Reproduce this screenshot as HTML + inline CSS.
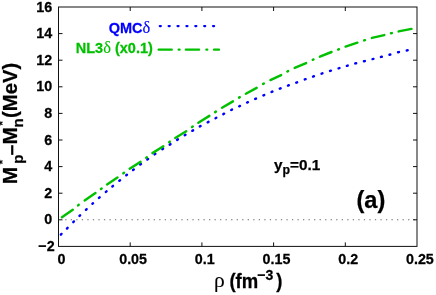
<!DOCTYPE html>
<html><head><meta charset="utf-8"><title>chart</title>
<style>html,body{margin:0;padding:0;background:#fff;overflow:hidden}svg{display:block}svg{will-change:transform}text{font-family:"Liberation Sans",sans-serif;font-weight:bold;fill:#000;stroke:#000;stroke-width:0.25px}.sym{font-family:"Liberation Serif",serif;font-weight:normal;stroke-width:0.1px}</style></head><body>
<svg width="436" height="295" viewBox="0 0 436 295">
<rect x="0" y="0" width="436" height="295" fill="#fff"/>
<line x1="65.2" y1="219.80" x2="416.0" y2="219.80" stroke="#6a6a6a" stroke-width="1.1" stroke-dasharray="1.3 4.23"/>
<g stroke="#0000ff" stroke-width="2.45" stroke-linecap="round" fill="none">
<line x1="60.88" y1="234.62" x2="61.52" y2="233.98"/>
<line x1="66.98" y1="228.52" x2="67.62" y2="227.88"/>
<line x1="73.28" y1="222.12" x2="73.92" y2="221.48"/>
<line x1="79.48" y1="215.91" x2="80.12" y2="215.29"/>
<line x1="85.97" y1="209.81" x2="86.63" y2="209.19"/>
<line x1="92.37" y1="203.80" x2="93.03" y2="203.20"/>
<line x1="98.96" y1="197.90" x2="99.64" y2="197.30"/>
<line x1="105.86" y1="191.94" x2="106.54" y2="191.36"/>
<line x1="112.35" y1="186.49" x2="113.05" y2="185.91"/>
<line x1="119.35" y1="180.78" x2="120.05" y2="180.22"/>
<line x1="126.25" y1="175.28" x2="126.95" y2="174.72"/>
<line x1="133.04" y1="169.97" x2="133.76" y2="169.43"/>
<line x1="140.24" y1="164.47" x2="140.96" y2="163.93"/>
<line x1="147.33" y1="159.46" x2="148.07" y2="158.94"/>
<line x1="154.63" y1="154.35" x2="155.37" y2="153.85"/>
<line x1="162.32" y1="149.14" x2="163.08" y2="148.66"/>
<line x1="169.72" y1="144.64" x2="170.48" y2="144.16"/>
<line x1="177.12" y1="139.84" x2="177.88" y2="139.36"/>
<line x1="184.71" y1="135.23" x2="185.49" y2="134.77"/>
<line x1="192.31" y1="130.83" x2="193.09" y2="130.37"/>
<line x1="199.81" y1="126.42" x2="200.59" y2="125.98"/>
<line x1="207.70" y1="122.31" x2="208.50" y2="121.89"/>
<line x1="215.50" y1="118.21" x2="216.30" y2="117.79"/>
<line x1="223.30" y1="114.11" x2="224.10" y2="113.69"/>
<line x1="231.20" y1="110.00" x2="232.00" y2="109.60"/>
<line x1="239.19" y1="106.29" x2="240.01" y2="105.91"/>
<line x1="247.09" y1="102.59" x2="247.91" y2="102.21"/>
<line x1="255.19" y1="98.98" x2="256.01" y2="98.62"/>
<line x1="263.39" y1="95.38" x2="264.21" y2="95.02"/>
<line x1="271.58" y1="91.97" x2="272.42" y2="91.63"/>
<line x1="279.78" y1="88.66" x2="280.62" y2="88.34"/>
<line x1="287.98" y1="85.55" x2="288.82" y2="85.25"/>
<line x1="296.28" y1="82.65" x2="297.12" y2="82.35"/>
<line x1="304.78" y1="79.45" x2="305.62" y2="79.15"/>
<line x1="313.07" y1="76.55" x2="313.93" y2="76.25"/>
<line x1="321.57" y1="73.64" x2="322.43" y2="73.36"/>
<line x1="330.07" y1="70.93" x2="330.93" y2="70.67"/>
<line x1="338.57" y1="68.33" x2="339.43" y2="68.07"/>
<line x1="346.87" y1="65.83" x2="347.73" y2="65.57"/>
<line x1="355.26" y1="63.41" x2="356.14" y2="63.19"/>
<line x1="363.96" y1="61.31" x2="364.84" y2="61.09"/>
<line x1="372.56" y1="59.11" x2="373.44" y2="58.89"/>
<line x1="380.96" y1="56.91" x2="381.84" y2="56.69"/>
<line x1="389.47" y1="54.72" x2="390.33" y2="54.48"/>
<line x1="398.06" y1="52.31" x2="398.94" y2="52.09"/>
<line x1="406.76" y1="50.49" x2="407.64" y2="50.31"/>
<line x1="159.75" y1="26.1" x2="160.85" y2="26.1" stroke-width="2.2"/>
<line x1="168.63" y1="26.1" x2="169.73" y2="26.1" stroke-width="2.2"/>
<line x1="177.51" y1="26.1" x2="178.61" y2="26.1" stroke-width="2.2"/>
<line x1="186.39" y1="26.1" x2="187.49" y2="26.1" stroke-width="2.2"/>
<line x1="195.27" y1="26.1" x2="196.37" y2="26.1" stroke-width="2.2"/>
<line x1="204.15" y1="26.1" x2="205.25" y2="26.1" stroke-width="2.2"/>
<line x1="213.03" y1="26.1" x2="214.13" y2="26.1" stroke-width="2.2"/>
</g>
<g stroke="#00c000" stroke-width="2.45" stroke-linecap="round" fill="none">
<line x1="61.93" y1="217.20" x2="72.77" y2="209.80"/>
<line x1="84.63" y1="200.40" x2="95.47" y2="193.05"/>
<line x1="107.04" y1="184.41" x2="117.46" y2="177.49"/>
<line x1="129.64" y1="168.72" x2="140.56" y2="161.88"/>
<line x1="152.45" y1="153.12" x2="163.35" y2="146.33"/>
<line x1="175.25" y1="137.93" x2="186.25" y2="131.17"/>
<line x1="198.34" y1="122.82" x2="209.36" y2="115.88"/>
<line x1="222.05" y1="107.73" x2="232.95" y2="101.37"/>
<line x1="245.86" y1="93.75" x2="256.64" y2="87.85"/>
<line x1="270.38" y1="80.08" x2="281.12" y2="75.02"/>
<line x1="294.68" y1="67.99" x2="306.12" y2="63.01"/>
<line x1="319.89" y1="56.70" x2="331.51" y2="52.00"/>
<line x1="345.60" y1="46.54" x2="357.40" y2="42.66"/>
<line x1="371.91" y1="37.89" x2="384.29" y2="35.11"/>
<line x1="398.62" y1="31.40" x2="411.48" y2="28.90"/>
<line x1="78.05" y1="205.38" x2="78.75" y2="204.82"/>
<line x1="100.94" y1="188.97" x2="101.66" y2="188.43"/>
<line x1="123.34" y1="173.36" x2="124.06" y2="172.84"/>
<line x1="146.14" y1="157.87" x2="146.86" y2="157.33"/>
<line x1="169.13" y1="142.16" x2="169.87" y2="141.64"/>
<line x1="192.03" y1="127.06" x2="192.77" y2="126.54"/>
<line x1="215.12" y1="112.14" x2="215.88" y2="111.66"/>
<line x1="239.01" y1="97.63" x2="239.79" y2="97.17"/>
<line x1="263.11" y1="83.92" x2="263.89" y2="83.48"/>
<line x1="287.35" y1="71.51" x2="288.15" y2="71.09"/>
<line x1="312.69" y1="59.79" x2="313.51" y2="59.41"/>
<line x1="338.08" y1="49.56" x2="338.92" y2="49.24"/>
<line x1="364.17" y1="40.44" x2="365.03" y2="40.16"/>
<line x1="390.96" y1="33.31" x2="391.84" y2="33.09"/>
<line x1="158.62" y1="49.7" x2="171.78" y2="49.7" stroke-width="2.3"/>
<line x1="185.82" y1="49.7" x2="199.08" y2="49.7" stroke-width="2.3"/>
<line x1="214.03" y1="49.7" x2="218.97" y2="49.7" stroke-width="2.3"/>
<line x1="178.65" y1="49.7" x2="179.55" y2="49.7" stroke-width="2.3"/>
<line x1="206.35" y1="49.7" x2="207.25" y2="49.7" stroke-width="2.3"/>
</g>
<g stroke="#111" stroke-width="1" fill="none">
<rect x="58.5" y="7.0" width="358.5" height="239.4"/>
<line x1="58.5" y1="219.80" x2="62.5" y2="219.80"/>
<line x1="417.0" y1="219.80" x2="413.0" y2="219.80"/>
<line x1="58.5" y1="193.20" x2="62.5" y2="193.20"/>
<line x1="417.0" y1="193.20" x2="413.0" y2="193.20"/>
<line x1="58.5" y1="166.60" x2="62.5" y2="166.60"/>
<line x1="417.0" y1="166.60" x2="413.0" y2="166.60"/>
<line x1="58.5" y1="140.00" x2="62.5" y2="140.00"/>
<line x1="417.0" y1="140.00" x2="413.0" y2="140.00"/>
<line x1="58.5" y1="113.40" x2="62.5" y2="113.40"/>
<line x1="417.0" y1="113.40" x2="413.0" y2="113.40"/>
<line x1="58.5" y1="86.80" x2="62.5" y2="86.80"/>
<line x1="417.0" y1="86.80" x2="413.0" y2="86.80"/>
<line x1="58.5" y1="60.20" x2="62.5" y2="60.20"/>
<line x1="417.0" y1="60.20" x2="413.0" y2="60.20"/>
<line x1="58.5" y1="33.60" x2="62.5" y2="33.60"/>
<line x1="417.0" y1="33.60" x2="413.0" y2="33.60"/>
<line x1="130.20" y1="246.4" x2="130.20" y2="242.4"/>
<line x1="130.20" y1="7.0" x2="130.20" y2="11.0"/>
<line x1="201.90" y1="246.4" x2="201.90" y2="242.4"/>
<line x1="201.90" y1="7.0" x2="201.90" y2="11.0"/>
<line x1="273.60" y1="246.4" x2="273.60" y2="242.4"/>
<line x1="273.60" y1="7.0" x2="273.60" y2="11.0"/>
<line x1="345.30" y1="246.4" x2="345.30" y2="242.4"/>
<line x1="345.30" y1="7.0" x2="345.30" y2="11.0"/>
</g>
<text transform="translate(52.20,224.30) scale(1.0,1.05)" font-size="14.3" text-anchor="end">0</text>
<text transform="translate(52.20,197.70) scale(1.0,1.05)" font-size="14.3" text-anchor="end">2</text>
<text transform="translate(52.20,171.10) scale(1.0,1.05)" font-size="14.3" text-anchor="end">4</text>
<text transform="translate(52.20,144.50) scale(1.0,1.05)" font-size="14.3" text-anchor="end">6</text>
<text transform="translate(52.20,117.90) scale(1.0,1.05)" font-size="14.3" text-anchor="end">8</text>
<text transform="translate(52.20,91.30) scale(1.0,1.05)" font-size="14.3" text-anchor="end">10</text>
<text transform="translate(52.20,64.70) scale(1.0,1.05)" font-size="14.3" text-anchor="end">12</text>
<text transform="translate(52.20,38.10) scale(1.0,1.05)" font-size="14.3" text-anchor="end">14</text>
<text transform="translate(52.20,11.50) scale(1.0,1.05)" font-size="14.3" text-anchor="end">16</text>
<text transform="translate(54.60,250.90) scale(1.0,1.05)" font-size="14.3" text-anchor="end">−2</text>
<text transform="translate(61.40,264.30) scale(1.0,1.05)" font-size="14.3" text-anchor="middle">0</text>
<text transform="translate(133.10,264.30) scale(1.0,1.05)" font-size="14.3" text-anchor="middle">0.05</text>
<text transform="translate(204.80,264.30) scale(1.0,1.05)" font-size="14.3" text-anchor="middle">0.1</text>
<text transform="translate(276.50,264.30) scale(1.0,1.05)" font-size="14.3" text-anchor="middle">0.15</text>
<text transform="translate(348.20,264.30) scale(1.0,1.05)" font-size="14.3" text-anchor="middle">0.2</text>
<text transform="translate(419.90,264.30) scale(1.0,1.05)" font-size="14.3" text-anchor="middle">0.25</text>
<text transform="translate(150.30,32.50) scale(1.0,1.04)" font-size="14.5" text-anchor="end" style="fill:#0000ff;stroke:#0000ff">QMC<tspan class="sym" font-size="16.5">δ</tspan></text>
<text transform="translate(152.80,52.50) scale(1.0,1.04)" font-size="14.5" text-anchor="end" style="fill:#00c000;stroke:#00c000">NL3<tspan class="sym" font-size="16.5">δ</tspan> (x0.1)</text>
<text x="274" y="170.4" font-size="15.3">y<tspan font-size="12.3" dy="3.6">p</tspan><tspan dy="-3.6">=0.1</tspan></text>
<text x="356.5" y="207.7" font-size="23.6">(a)</text>
<text class="sym" x="213.9" y="287.4" font-size="21.5">ρ</text>
<text transform="translate(229.40,287.60) scale(1.0,1.06)" font-size="18.5" text-anchor="start">(fm</text>
<text transform="translate(257.30,280.40) scale(1.0,1.05)" font-size="14.1" text-anchor="start">−3</text>
<text transform="translate(276.30,287.60) scale(1.0,1.06)" font-size="18.5" text-anchor="start">)</text>
<g transform="translate(16.9,183.3) rotate(-90)">
<text transform="translate(-0.90,0.00) scale(1.08,1)" font-size="19.3">M</text>
<text transform="translate(19.60,5.60) scale(1.0,1)" font-size="15.0">p</text>
<text transform="translate(18.90,-9.60) scale(1.0,1)" font-size="12.5" style="stroke:none">*</text>
<rect x="28.4" y="-5.75" width="9.7" height="2.2" fill="#000"/>
<text transform="translate(38.90,0.00) scale(1.08,1)" font-size="19.3">M</text>
<text transform="translate(55.70,5.60) scale(1.0,1)" font-size="15.0">n</text>
<text transform="translate(57.60,-9.60) scale(1.0,1)" font-size="12.5" style="stroke:none">*</text>
<text transform="translate(65.40,0.00) scale(1.05,1)" font-size="19.3">(MeV)</text>
</g>
</svg></body></html>
